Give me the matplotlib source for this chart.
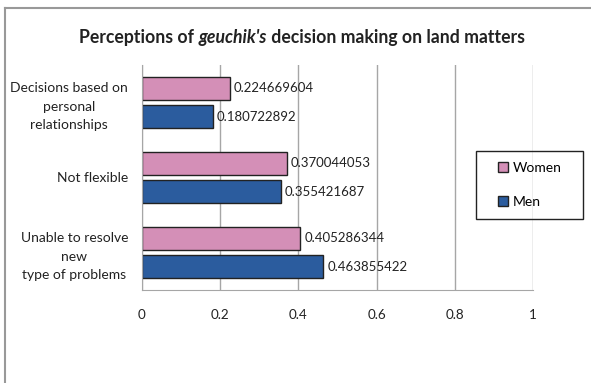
import matplotlib.pyplot as plt
from matplotlib.lines import Line2D
from matplotlib.patches import Rectangle
import numpy as np

plt.rcParams['font.family'] = ['Lato', 'DejaVu Sans']

categories = ['Decisions based on\npersonal\nrelationships', 'Not flexible',
              'Unable to resolve\nnew\ntype of problems']
women = [0.224669604, 0.370044053, 0.405286344]
men = [0.180722892, 0.355421687, 0.463855422]
xticks = [0, 0.2, 0.4, 0.6, 0.8, 1]
xtick_labels = ['0', '0.2', '0.4', '0.6', '0.8', '1']

pink = '#d48fb7'
blue = '#2b5c9e'
grid = '#a6a6a6'
ink = '#222222'

W, H = 591, 383
fig = plt.figure(figsize=(W / 100, H / 100), dpi=100)
ax = fig.add_axes([142 / W, 1 - 290 / H, (533 - 142) / W, (290 - 65) / H])

y = np.arange(len(categories))
h = 0.31
off = 0.187
ax.barh(y - off, women, height=h, color=pink, edgecolor=ink, linewidth=1.0, label='Women')
ax.barh(y + off, men, height=h, color=blue, edgecolor=ink, linewidth=1.0, label='Men')

for yi, v in zip(y, women):
    ax.text(v + 0.01, yi - off, f'{v:.9f}', va='center', ha='left', fontsize=9.5, color=ink)
for yi, v in zip(y, men):
    ax.text(v + 0.01, yi + off, f'{v:.9f}', va='center', ha='left', fontsize=9.5, color=ink)

ax.set_xlim(0, 1)
ax.set_ylim(len(categories) - 0.5, -0.5)
ax.set_xticks(xticks)
ax.set_xticklabels(xtick_labels, fontsize=9.7, color=ink)
ax.set_yticks(y)
ax.set_yticklabels(categories, fontsize=10, color=ink, linespacing=1.65,
                   multialignment='center')
ax.tick_params(length=0)
ax.tick_params(axis='x', pad=14)
ax.tick_params(axis='y', pad=10)
ax.xaxis.grid(True, color=grid, linewidth=1.0)
ax.set_axisbelow(True)
for side in ['top', 'right']:
    ax.spines[side].set_visible(False)
ax.spines['left'].set_color(grid)
ax.spines['bottom'].set_color(grid)

# legend: entries without frame, box drawn separately
handles = [Rectangle((0, 0), 1, 1, facecolor=pink, edgecolor=ink),
           Rectangle((0, 0), 1, 1, facecolor=blue, edgecolor=ink)]
fig.legend(handles, ['Women', 'Men'], loc='upper left',
           bbox_to_anchor=(498 / W, 1 - 162 / H), fontsize=10,
           frameon=False, handlelength=0.7, handleheight=0.7, handletextpad=0.35,
           labelspacing=1.55, borderpad=0, borderaxespad=0)
fig.add_artist(Rectangle((476 / W, 1 - 219 / H), (583 - 476) / W, (219 - 151) / H,
                         transform=fig.transFigure, facecolor='none',
                         edgecolor=ink, linewidth=1.0))

# title with italic word, laid out piece by piece
fig.canvas.draw()
r = fig.canvas.get_renderer()
parts = [('Perceptions of ', 'normal'), ("geuchik's", 'italic'),
         (' decision making on land matters', 'normal')]
texts = [fig.text(0, 1 - 37 / H, s, fontsize=12.7, fontweight='bold', style=st,
                  va='center', ha='left', color=ink) for s, st in parts]
widths = [t.get_window_extent(r).width for t in texts]
x0 = 302 - sum(widths) / 2
for t, w in zip(texts, widths):
    t.set_x(x0 / W)
    x0 += w

# chart area frame (top and left edges visible)
fig.add_artist(Line2D([4.5 / W, 4.5 / W], [0, 1 - 7.5 / H], color='#999999', lw=1.5))
fig.add_artist(Line2D([4.5 / W, 1], [1 - 7.5 / H, 1 - 7.5 / H], color='#999999', lw=1.5))

fig.savefig('out.png', dpi=100)
